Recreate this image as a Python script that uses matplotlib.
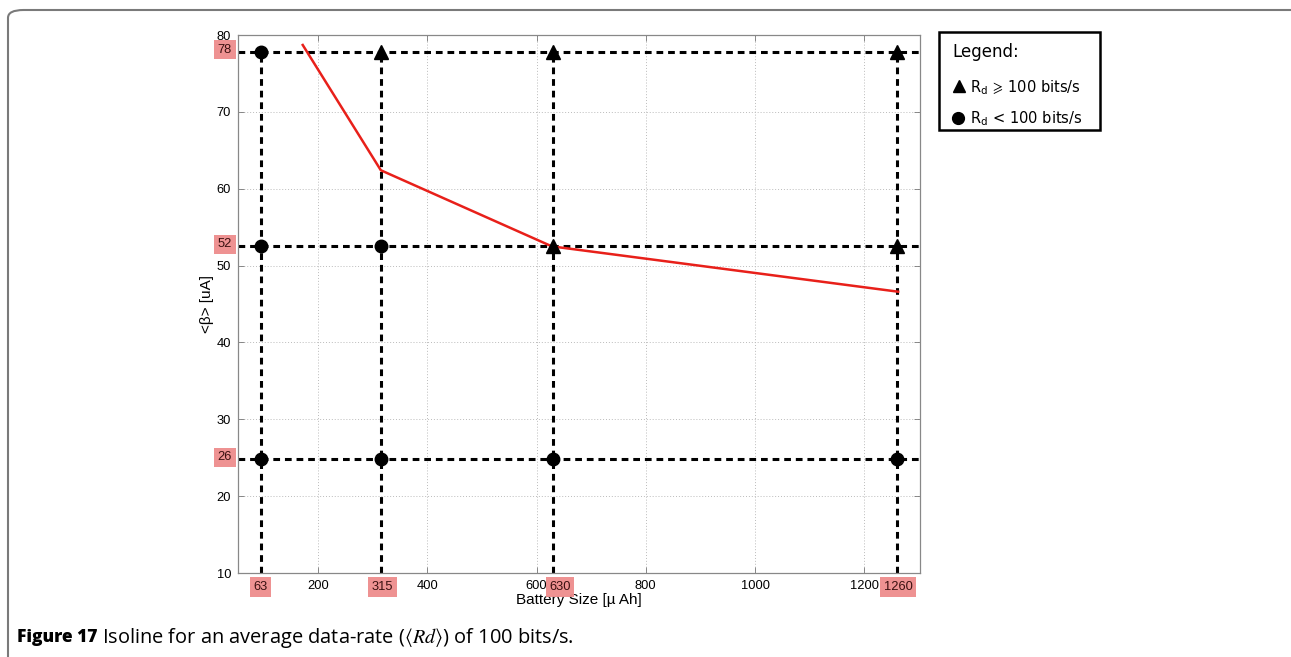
import matplotlib
matplotlib.use("Agg")
import matplotlib.pyplot as plt
from matplotlib.patches import FancyBboxPatch, Rectangle
from matplotlib.lines import Line2D

plt.rcParams["mathtext.fontset"] = "stix"

# ---- data ----
grid_x = [95, 315, 630, 1260]          # battery sizes (plotted positions)
grid_x_labels = ["63", "315", "630", "1260"]
grid_x_label_pos = [95, 318, 643, 1262]
grid_y = [77.8, 52.5, 24.8]            # <beta> levels
grid_y_labels = ["78", "52", "26"]
# marker type per (x, y): 't' = Rd >= 100, 'c' = Rd < 100
marker_types = {
    95:   ["c", "c", "c"],
    315:  ["t", "c", "c"],
    630:  ["t", "t", "c"],
    1260: ["t", "t", "c"],
}
iso_x = [172, 315, 628, 1262]
iso_y = [78.7, 62.4, 52.5, 46.6]
xticks = [200, 400, 600, 800, 1000, 1200]
yticks = [10, 20, 30, 40, 50, 60, 70, 80]

W, H = 1291, 657
fig = plt.figure(figsize=(W / 100, H / 100), dpi=100)

# page frame
frame = FancyBboxPatch((8 / W, -0.2), 1.2, 1 - 10 / H + 0.2,
                       boxstyle="round,pad=0,rounding_size=0.012",
                       transform=fig.transFigure, fill=False,
                       edgecolor="#7a7a7a", linewidth=1.5, zorder=0)
fig.patches.append(frame)

ax = fig.add_axes([238 / W, 1 - 573 / H, (920 - 238) / W, (573 - 35) / H])
ax.set_xlim(53.5, 1302)
ax.set_ylim(10, 80)
ax.set_xticks(xticks)
ax.set_yticks(yticks)
ax.tick_params(direction="in", length=4, width=0.6, labelsize=9.3,
               top=True, right=True, color="#777777", pad=5)
for lbl in ax.get_xticklabels() + ax.get_yticklabels():
    lbl.set_family("Liberation Sans")
for s in ax.spines.values():
    s.set_color("#888888")
    s.set_linewidth(0.9)
ax.grid(True, linestyle=(0, (1, 2)), color="#bbbbbb", linewidth=0.7)
ax.set_axisbelow(True)

# dashed isoline grid
for y in grid_y:
    ax.axhline(y, color="black", linestyle=(0, (2.2, 1.6)), linewidth=2.2, zorder=2)
for x in grid_x:
    ax.plot([x, x], [10, grid_y[0]], color="black", linestyle=(0, (2.2, 1.6)),
            linewidth=2.2, zorder=2)

# isoline
ax.plot(iso_x, iso_y, color="#e8201a", linewidth=1.8, zorder=3)

# markers
for x in grid_x:
    for y, t in zip(grid_y, marker_types[x]):
        if t == "t":
            ax.plot(x, y, marker="^", color="black", markersize=9.5, zorder=4)
        else:
            ax.plot(x, y, marker="o", color="black", markersize=9, zorder=4)

ax.set_xlabel("Battery Size [\u00b5 Ah]", fontsize=11, labelpad=1,
              family="Liberation Sans")
ax.set_ylabel("<\u03b2> [uA]", fontsize=11, labelpad=2, family="Liberation Sans")

# red highlight labels
box = dict(boxstyle="square,pad=0.28", facecolor="#ee8c8c", edgecolor="none", alpha=0.95)
for xv, lab in zip(grid_x_label_pos, grid_x_labels):
    ax.annotate(lab, xy=(xv, 10), xycoords="data", xytext=(0, -10),
                textcoords="offset points", ha="center", va="center",
                fontsize=9.3, color="#3a1010", bbox=box, zorder=5,
                family="Liberation Sans", annotation_clip=False)
for yv, lab in zip(grid_y, grid_y_labels):
    ax.annotate(lab, xy=(53.5, yv), xycoords="data", xytext=(-9.5, 1.5),
                textcoords="offset points", ha="center", va="center",
                fontsize=9.3, color="#3a1010", bbox=box, zorder=5,
                family="Liberation Sans", annotation_clip=False)

# legend box
fig.patches.append(Rectangle((939 / W, 1 - 130 / H), (1100 - 939) / W, (130 - 32) / H,
                             transform=fig.transFigure, fill=True, facecolor="white",
                             edgecolor="black", linewidth=1.8, zorder=5))
fig.text(952 / W, 1 - 52 / H, "Legend:", fontsize=12, va="center", ha="left", zorder=6)
fig.add_artist(Line2D([959 / W], [1 - 86 / H], marker="^", color="black",
                      markersize=9, transform=fig.transFigure, zorder=6))
fig.text(970 / W, 1 - 87 / H, r"R$_\mathregular{d}$ $\!\geqslant\!$ 100 bits/s",
         fontsize=10.5, va="center", ha="left", zorder=6)
fig.add_artist(Line2D([958 / W], [1 - 118 / H], marker="o", color="black",
                      markersize=8.5, transform=fig.transFigure, zorder=6))
fig.text(970 / W, 1 - 119 / H, r"R$_\mathregular{d}$ < 100 bits/s",
         fontsize=10.5, va="center", ha="left", zorder=6)

# caption
fig.text(17 / W, 1 - 638 / H, "Figure 17", fontsize=12.5, fontweight="heavy",
         family="Open Sans", va="center", ha="left")
fig.text(102 / W, 1 - 638 / H,
         r"Isoline for an average data-rate ($\langle Rd\rangle$) of 100 bits/s.",
         fontsize=14.4, family="Open Sans", va="center", ha="left")

fig.savefig("out.png", dpi=100)
